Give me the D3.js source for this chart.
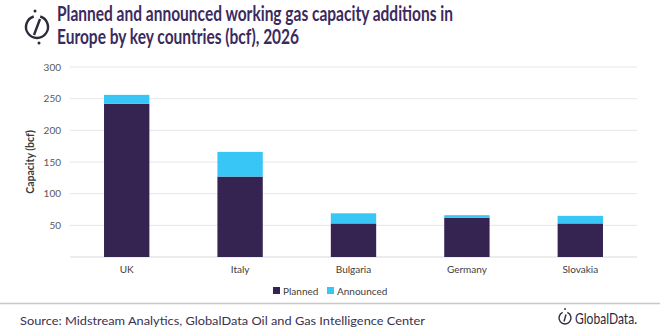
<!DOCTYPE html>
<html>
<head>
<meta charset="utf-8">
<script src="https://cdn.jsdelivr.net/npm/d3@7"></script>
<style>
  body { margin: 0; background: #fff; }
  svg { display: block; font-family: Lato, "Open Sans", sans-serif; }
</style>
</head>
<body>
<svg width="660" height="330"></svg>
<script>
const countries = ["UK", "Italy", "Bulgaria", "Germany", "Slovakia"]
const planned = [242, 127, 53, 62, 53]
const announced = [14, 39, 16, 4, 12]
const yTicks = [50, 100, 150, 200, 250, 300]
const seriesNames = ["Planned", "Announced"]

const width = 660
const height = 330
const margin = {top: 67, right: 23, bottom: 73, left: 70}

const svg = d3.select("svg")

const colors = d3.scaleOrdinal().domain(seriesNames).range(["#352452", "#38c6f6"])

const rows = countries.map((c, i) => ({country: c, Planned: planned[i], Announced: announced[i]}))
const stacked = d3.stack().keys(seriesNames)(rows)

const x = d3.scaleBand()
    .domain(countries)
    .range([margin.left, width - margin.right])
    .paddingInner(0.6)
    .paddingOuter(0.3)

const y = d3.scaleLinear()
    .domain([0, 300])
    .range([height - margin.bottom, margin.top])

// gridlines (baseline included)
svg.append("g")
    .selectAll("line")
    .data([0, ...yTicks])
    .join("line")
    .attr("x1", margin.left)
    .attr("x2", width - margin.right)
    .attr("y1", d => y(d))
    .attr("y2", d => y(d))
    .attr("stroke", d => d === 0 ? "#d9d9d9" : "#e6e6e6")
    .attr("stroke-width", 1)

// y axis labels
svg.append("g")
    .attr("transform", `translate(${margin.left - 9},0)`)
    .call(d3.axisLeft(y).tickValues(yTicks).tickSize(0).tickPadding(0))
    .call(g => g.select(".domain").remove())
    .call(g => g.selectAll("text")
        .attr("font-family", "Lato, sans-serif")
        .attr("font-size", 10)
        .attr("fill", "#595959"))

svg.append("text")
    .attr("transform", `translate(34,${y(150)}) rotate(-90)`)
    .attr("text-anchor", "middle")
    .attr("font-size", 10.5)
    .attr("font-weight", "bold")
    .attr("fill", "#3a3a3a")
    .text("Capacity (bcf)")

// stacked bars
svg.append("g")
    .selectAll("g")
    .data(stacked)
    .join("g")
    .attr("fill", d => colors(d.key))
    .selectAll("rect")
    .data(d => d)
    .join("rect")
    .attr("x", d => x(d.data.country))
    .attr("y", d => y(d[1]))
    .attr("width", x.bandwidth())
    .attr("height", d => y(d[0]) - y(d[1]))

// x axis labels
svg.append("g")
    .attr("transform", `translate(0,${height - margin.bottom})`)
    .call(d3.axisBottom(x).tickSize(0).tickPadding(9))
    .call(g => g.select(".domain").remove())
    .call(g => g.selectAll("text")
        .attr("font-family", "Lato, sans-serif")
        .attr("font-size", 10)
        .attr("fill", "#404040"))

// legend
const legend = svg.append("g")
    .attr("font-size", 10)
    .attr("fill", "#404040")
const legendX = [273, 327]
seriesNames.forEach((name, i) => {
    legend.append("rect")
        .attr("x", legendX[i])
        .attr("y", 287)
        .attr("width", 7)
        .attr("height", 7)
        .attr("fill", colors(name))
    legend.append("text")
        .attr("x", legendX[i] + 10)
        .attr("y", 294.5)
        .text(name)
})

// title
const titleLines = ["Planned and announced working gas capacity additions in",
    "Europe by key countries (bcf), 2026"]
const title = svg.append("g")
    .attr("font-size", 20)
    .attr("font-weight", "bold")
    .attr("fill", "#3b2a5e")
titleLines.forEach((t, i) => {
    title.append("text")
        .attr("x", 57)
        .attr("y", 21 + i * 23)
        .text(t)
})
// squeeze both lines by the same factor so line one is 396px
const t0 = title.select("text").node()
const squeeze = 396 / t0.getComputedTextLength()
title.selectAll("text").each(function() {
    const w = this.getComputedTextLength()
    d3.select(this).attr("textLength", w * squeeze).attr("lengthAdjust", "spacingAndGlyphs")
})

// icon
const icon = svg.append("g")
    .attr("transform", "translate(37,27)")
    .attr("fill", "none")
    .attr("stroke", "#2b2b3b")
    .attr("stroke-width", 2.4)
icon.append("path")
    .attr("d", d3.arc()({innerRadius: 11, outerRadius: 11, startAngle: 0.3, endAngle: Math.PI * 2 - 0.3}))
icon.append("line")
    .attr("x1", 3).attr("y1", -8).attr("x2", -3).attr("y2", 8)
icon.append("circle").attr("cx", -2).attr("cy", -16).attr("r", 1.5).attr("fill", "#2b2b3b").attr("stroke", "none")
icon.append("circle").attr("cx", 2).attr("cy", 16).attr("r", 1.5).attr("fill", "#2b2b3b").attr("stroke", "none")

// footer
svg.append("line")
    .attr("x1", 0).attr("x2", width)
    .attr("y1", 303.5).attr("y2", 303.5)
    .attr("stroke", "#c8c8c8")
    .attr("stroke-width", 1.5)

svg.append("text")
    .attr("x", 20)
    .attr("y", 325)
    .attr("font-size", 12)
    .attr("fill", "#3a3150")
    .attr("textLength", 405)
    .attr("lengthAdjust", "spacingAndGlyphs")
    .text("Source: Midstream Analytics, GlobalData Oil and Gas Intelligence Center")

const logo = svg.append("g").attr("transform", "translate(565,318)")
logo.append("path")
    .attr("d", d3.arc()({innerRadius: 6, outerRadius: 6, startAngle: 0.4, endAngle: Math.PI * 2 - 0.4}))
    .attr("fill", "none").attr("stroke", "#2b2b3b").attr("stroke-width", 1.4)
logo.append("line").attr("x1", 1).attr("y1", -3.5).attr("x2", -1).attr("y2", 3.5)
    .attr("stroke", "#2b2b3b").attr("stroke-width", 1.4)
logo.append("circle").attr("cx", 0).attr("cy", -9).attr("r", 0.9).attr("fill", "#2b2b3b")
logo.append("text")
    .attr("x", 10)
    .attr("y", 5.5)
    .attr("font-size", 15)
    .attr("fill", "#2b2b3b")
    .attr("textLength", 62)
    .attr("lengthAdjust", "spacingAndGlyphs")
    .text("GlobalData.")
</script>
</body>
</html>
